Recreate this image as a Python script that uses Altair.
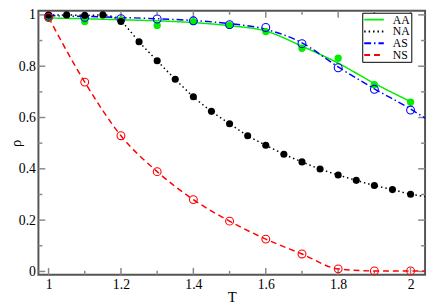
import altair as alt
import pandas as pd

# ---- data ----
series_names = ["AA", "NA", "AS", "NS"]

T_pts = [1.0, 1.1, 1.2, 1.3, 1.4, 1.5, 1.6, 1.7, 1.8, 1.9, 2.0]
AA_pts = [0.987, 0.974, 0.980, 0.959, 0.974, 0.959, 0.935, 0.870, 0.831, 0.728, 0.660]
AS_pts = [0.995, 0.990, 0.985, 0.984, 0.977, 0.962, 0.951, 0.888, 0.794, 0.710, 0.629]
NS_pts = [0.990, 0.738, 0.529, 0.389, 0.280, 0.196, 0.126, 0.068, 0.010, 0.002, 0.002]

T_na = [1.00, 1.05, 1.10, 1.15, 1.20, 1.25, 1.30, 1.35, 1.40, 1.45, 1.50,
        1.55, 1.60, 1.65, 1.70, 1.75, 1.80, 1.85, 1.90, 1.95, 2.00]
NA_pts = [0.999, 1.000, 0.998, 1.000, 0.974, 0.895, 0.821, 0.749, 0.681, 0.624, 0.576,
          0.529, 0.492, 0.457, 0.427, 0.399, 0.376, 0.355, 0.335, 0.319, 0.301]

# fitted curves
T_line = [1.0, 1.1, 1.2, 1.3, 1.4, 1.5, 1.6, 1.7, 1.8, 1.9, 2.0, 2.04]
AA_line = [0.988, 0.985, 0.981, 0.977, 0.970, 0.958, 0.937, 0.878, 0.812, 0.733, 0.662]
AS_line = [0.997, 0.994, 0.990, 0.985, 0.978, 0.966, 0.944, 0.891, 0.797, 0.712, 0.633, 0.598]
T_na_line = T_na + [2.04]
NA_line = NA_pts + [0.292]
NS_line = NS_pts + [0.001]

x_major = [1.0, 1.2, 1.4, 1.6, 1.8, 2.0]
x_minor = [1.1, 1.3, 1.5, 1.7, 1.9]
y_major = [0.0, 0.2, 0.4, 0.6, 0.8, 1.0]
y_minor = [0.1, 0.3, 0.5, 0.7, 0.9]

# ---- styling ----
colors = ["#00ee00", "#000000", "#0000ff", "#ff0000"]
dashes = [[1, 0], [1.5, 3], [7, 3, 1.5, 3], [6, 4]]
FONT = "Liberation Serif"
W, H = 394, 269
XDOM = [0.972, 2.04]
YDOM = [-0.013, 1.016]

rows = []
for name, xs_, ys_ in [("AA", T_line, AA_line), ("NA", T_na_line, NA_line),
                       ("AS", T_line, AS_line), ("NS", T_pts + [2.04], NS_line)]:
    for x, y in zip(xs_, ys_):
        rows.append({"s": name, "T": x, "rho": y})
lines_df = pd.DataFrame(rows)

xs = alt.Scale(domain=XDOM, nice=False, zero=False)
ys = alt.Scale(domain=YDOM, nice=False, zero=False)

x_axis = alt.Axis(values=x_major, format="~g", tickSize=0, domain=False, grid=False,
                  labelFont=FONT, labelFontSize=14, labelColor="black", labelPadding=3,
                  title="T", titleFont=FONT, titleFontSize=15, titleFontWeight="normal",
                  titleColor="black", titleY=27, titleBaseline="alphabetic")
y_axis = alt.Axis(values=y_major, format="~g", tickSize=0, domain=False, grid=False,
                  labelFont=FONT, labelFontSize=14, labelColor="black", labelPadding=3,
                  title="ρ", titleFont=FONT, titleFontSize=15, titleFontWeight="normal",
                  titleColor="black", titleX=-18, titleBaseline="alphabetic")

lines = alt.Chart(lines_df).mark_line(strokeWidth=1.5, interpolate="monotone").encode(
    x=alt.X("T:Q", scale=xs, axis=x_axis),
    y=alt.Y("rho:Q", scale=ys, axis=y_axis),
    color=alt.Color("s:N", scale=alt.Scale(domain=series_names, range=colors), title=None,
                    sort=series_names),
    strokeDash=alt.StrokeDash("s:N", scale=alt.Scale(domain=series_names, range=dashes),
                              title=None, sort=series_names),
    detail="s:N",
)


def pts(xv, yv, color, filled, size):
    df = pd.DataFrame({"T": xv, "rho": yv})
    if filled:
        m = alt.Chart(df).mark_point(shape="circle", filled=True, size=size, color=color, opacity=1)
    else:
        m = alt.Chart(df).mark_point(shape="circle", filled=False, size=size, color=color,
                                     strokeWidth=1.1, opacity=1)
    return m.encode(x=alt.X("T:Q", scale=xs), y=alt.Y("rho:Q", scale=ys))


p_aa = pts(T_pts, AA_pts, colors[0], True, 55)
p_as = pts(T_pts, AS_pts, colors[2], False, 64)
p_na = pts(T_na, NA_pts, colors[1], True, 52)
p_ns = pts(T_pts, NS_pts, colors[3], False, 64)


def xticks(vals, length):
    df = pd.DataFrame({"v": vals})
    base = alt.Chart(df).mark_rule(color="#888888", strokeWidth=1.5)
    b = base.encode(x=alt.X("v:Q", scale=xs), y=alt.value(H), y2=alt.value(H - length))
    t = base.encode(x=alt.X("v:Q", scale=xs), y=alt.value(0), y2=alt.value(length))
    return [b, t]


def yticks(vals, length):
    df = pd.DataFrame({"v": vals})
    base = alt.Chart(df).mark_rule(color="#888888", strokeWidth=1.5)
    l = base.encode(y=alt.Y("v:Q", scale=ys), x=alt.value(0), x2=alt.value(length))
    r = base.encode(y=alt.Y("v:Q", scale=ys), x=alt.value(W), x2=alt.value(W - length))
    return [l, r]


ticks = xticks(x_major, 7) + xticks(x_minor, 4) + yticks(y_major, 7) + yticks(y_minor, 4)

chart = alt.layer(*ticks, lines, p_aa, p_as, p_na, p_ns).properties(
    width=W, height=H,
    autosize=alt.AutoSizeParams(type="none"),
    padding={"left": 31, "top": 0, "right": 3, "bottom": 30},
).configure_view(
    stroke="#555555", strokeWidth=2
).configure_legend(
    orient="none", legendX=330, legendY=2,
    strokeColor="black", strokeWidth=1, fillColor="white",
    padding=1, rowPadding=0, clipHeight=12, symbolType="stroke", symbolSize=400,
    symbolStrokeWidth=2,
    labelFont=FONT, labelFontSize=12, labelColor="black", labelOffset=8,
)

chart.save("out.html", embed_options={"renderer": "svg", "actions": False})
